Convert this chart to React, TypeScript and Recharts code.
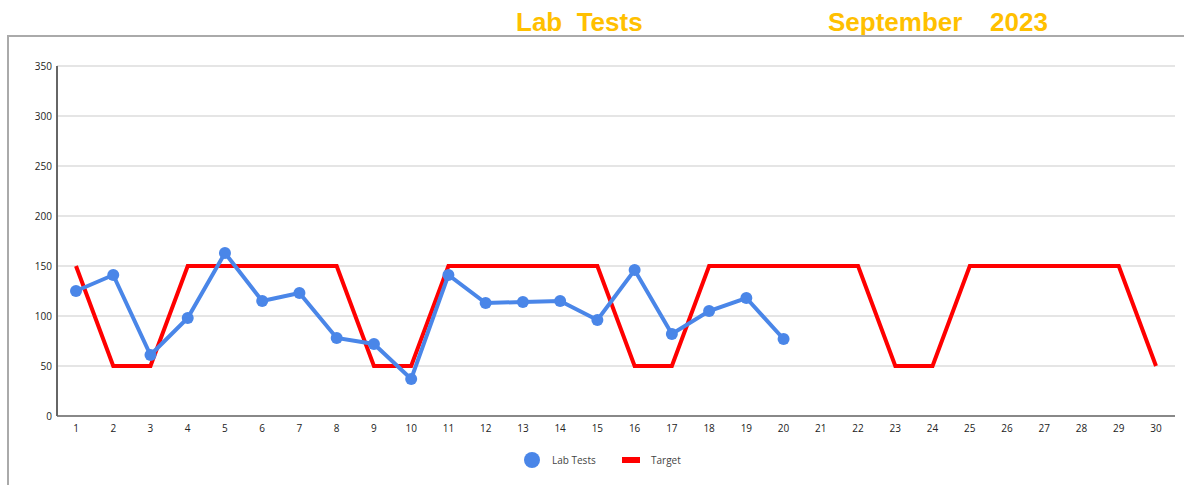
import React from "react";
import { LineChart, Line, XAxis, YAxis, CartesianGrid, Legend } from "recharts";

// daily values
const days = Array.from({ length: 30 }, (_, i) => String(i + 1));
const labTests: (number | null)[] = [
  125, 141, 61, 98, 163, 115, 123, 78, 72, 37,
  141, 113, 114, 115, 96, 146, 82, 105, 118, 77,
  null, null, null, null, null, null, null, null, null, null,
];
const target = [
  150, 50, 50, 150, 150, 150, 150, 150, 50, 50,
  150, 150, 150, 150, 150, 50, 50, 150, 150, 150,
  150, 150, 50, 50, 150, 150, 150, 150, 150, 50,
];
const yTicks = [0, 50, 100, 150, 200, 250, 300, 350];

const BLUE = "#4a86e8";
const RED = "#ff0000";
const TITLE = "#ffc000";

const chartData = days.map((d, i) => ({
  day: d,
  labTests: labTests[i],
  target: target[i],
}));

const renderLegend = () => (
  <div style={{ position: "relative", width: 1184, height: 30, fontFamily: "'Open Sans', sans-serif", fontSize: 10, color: "#444" }}>
    <span style={{ position: "absolute", left: 524, top: 7, width: 16, height: 16, borderRadius: 8, background: BLUE }} />
    <span style={{ position: "absolute", left: 552, top: 7, lineHeight: "16px" }}>Lab Tests</span>
    <span style={{ position: "absolute", left: 622, top: 12, width: 18, height: 6, background: RED }} />
    <span style={{ position: "absolute", left: 651, top: 7, lineHeight: "16px" }}>Target</span>
  </div>
);

const tickStyle = { fontSize: 10, fill: "#222", fontFamily: "'Open Sans', sans-serif" };

export default function App() {
  return (
    <div style={{ position: "fixed", left: 0, top: 0, width: 1184, height: 485, overflow: "hidden", background: "#fff" }}>
      <div
        style={{
          position: "absolute",
          left: 516,
          top: 9,
          fontFamily: "'Liberation Sans', Arial, sans-serif",
          fontWeight: "bold",
          fontSize: 26,
          lineHeight: "26px",
          color: TITLE,
          whiteSpace: "pre",
        }}
      >
        Lab  Tests
      </div>
      <div
        style={{
          position: "absolute",
          left: 828,
          top: 9,
          fontFamily: "'Liberation Sans', Arial, sans-serif",
          fontWeight: "bold",
          fontSize: 26,
          lineHeight: "26px",
          color: TITLE,
          whiteSpace: "pre",
          wordSpacing: 2,
        }}
      >
        September   2023
      </div>
      <div
        style={{
          position: "absolute",
          left: 7,
          top: 35,
          width: 1220,
          height: 500,
          borderTop: "2px solid #aaa",
          borderLeft: "2px solid #aaa",
        }}
      />
      <div style={{ position: "absolute", left: 0, top: 36 }}>
        <LineChart
          width={1184}
          height={439}
          data={chartData}
          margin={{ top: 30, right: 9, left: 0, bottom: 0 }}
        >
          <CartesianGrid vertical={false} stroke="#dcdcdc" strokeWidth={1.5} />
          <XAxis
            dataKey="day"
            height={29}
            padding={{ left: 19, right: 19 }}
            tick={tickStyle}
            tickLine={false}
            tickSize={0}
            tickMargin={9}
            axisLine={{ stroke: "#888", strokeWidth: 2 }}
            interval={0}
          />
          <YAxis
            width={57}
            domain={[0, 350]}
            ticks={yTicks}
            tick={tickStyle}
            tickLine={false}
            tickSize={0}
            tickMargin={5}
            axisLine={{ stroke: "#666", strokeWidth: 2 }}
          />
          <Legend verticalAlign="bottom" height={30} content={renderLegend} />
          <Line
            type="linear"
            dataKey="target"
            name="Target"
            stroke={RED}
            strokeWidth={4}
            dot={false}
            activeDot={false}
            isAnimationActive={false}
          />
          <Line
            type="linear"
            dataKey="labTests"
            name="Lab Tests"
            stroke={BLUE}
            strokeWidth={4}
            dot={{ r: 6, fill: BLUE, stroke: BLUE, strokeWidth: 0 }}
            activeDot={false}
            isAnimationActive={false}
          />
        </LineChart>
      </div>
    </div>
  );
}
